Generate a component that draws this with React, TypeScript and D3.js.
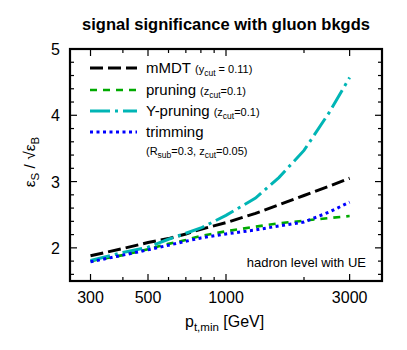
import React from 'react';
import * as d3 from 'd3';

// p_t,min values [GeV]
const ptValues = [300, 400, 500, 600, 700, 800, 1000, 1300, 1600, 2000, 2500, 3000];

// signal significance eps_S / sqrt(eps_B)
const mmdt = [1.88, 1.99, 2.08, 2.14, 2.21, 2.28, 2.38, 2.52, 2.65, 2.79, 2.93, 3.05];
const pruning = [1.80, 1.89, 1.98, 2.06, 2.12, 2.18, 2.25, 2.32, 2.37, 2.41, 2.45, 2.48];
const yPruning = [1.81, 1.93, 2.01, 2.13, 2.22, 2.30, 2.49, 2.75, 3.06, 3.47, 4.04, 4.57];
const trimming = [1.79, 1.89, 1.97, 2.04, 2.10, 2.15, 2.21, 2.27, 2.33, 2.39, 2.54, 2.69];

const xMajorTicks = [300, 500, 1000, 3000];
const xMinorTicks = [400, 600, 700, 800, 900, 2000, 4000];
const yMajorTicks = [2, 3, 4, 5];

const font = '"Liberation Sans", Arial, Helvetica, sans-serif';

const series = [
  { name: 'mMDT', values: mmdt, color: '#000000', dash: '13,5', width: 3, label: 'mMDT', note: [['(y', ''], ['cut', 'sub'], [' = 0.11)', '']] },
  { name: 'pruning', values: pruning, color: '#00aa00', dash: '7,6', width: 2.6, label: 'pruning', note: [['(z', ''], ['cut', 'sub'], ['=0.1)', '']] },
  { name: 'ypruning', values: yPruning, color: '#00b5b5', dash: '20,5,3,5', width: 3, label: 'Y-pruning', note: [['(z', ''], ['cut', 'sub'], ['=0.1)', '']] },
  { name: 'trimming', values: trimming, color: '#0000ff', dash: '3,3.5', width: 3, label: 'trimming', note: null },
];

const App = () => {
  const width = 407;
  const height = 350;
  const left = 70, right = 382, top = 49, bottom = 281;

  const x = d3.scaleLog().domain([250, 4000]).range([left, right]);
  const y = d3.scaleLinear().domain([1.5, 5]).range([bottom, top]);
  const yMinor = d3.range(1.6, 5.0, 0.2).filter(v => Math.abs(v - Math.round(v)) > 0.01);

  const line = (vals: number[]) =>
    d3.line<number>()
      .x((d, i) => x(ptValues[i]))
      .y(d => y(d))(vals) as string;

  const legendRows = [73, 95, 116, 137];

  return (
    <svg width={width} height={height} style={{ position: 'absolute', left: 0, top: 0 }} fontFamily={font}>
      <rect width={width} height={height} fill="#fff" />
      <text x={226} y={30} textAnchor="middle" fontSize={16.5} fontWeight="bold">
        signal significance with gluon bkgds
      </text>

      {/* curves */}
      {series.map(s => (
        <path key={s.name} d={line(s.values)} fill="none" stroke={s.color}
          strokeWidth={s.width} strokeDasharray={s.dash} />
      ))}

      {/* ticks on all four sides */}
      <g stroke="#000" strokeWidth={1.2}>
        {xMajorTicks.map(t => (
          <g key={'xM' + t}>
            <line x1={x(t)} x2={x(t)} y1={bottom} y2={bottom - 7} />
            <line x1={x(t)} x2={x(t)} y1={top} y2={top + 7} />
          </g>
        ))}
        {xMinorTicks.map(t => (
          <g key={'xm' + t}>
            <line x1={x(t)} x2={x(t)} y1={bottom} y2={bottom - 4} />
            <line x1={x(t)} x2={x(t)} y1={top} y2={top + 4} />
          </g>
        ))}
        {yMajorTicks.map(t => (
          <g key={'yM' + t}>
            <line x1={left} x2={left + 7} y1={y(t)} y2={y(t)} />
            <line x1={right} x2={right - 7} y1={y(t)} y2={y(t)} />
          </g>
        ))}
        {yMinor.map(t => (
          <g key={'ym' + t.toFixed(1)}>
            <line x1={left} x2={left + 4} y1={y(t)} y2={y(t)} />
            <line x1={right} x2={right - 4} y1={y(t)} y2={y(t)} />
          </g>
        ))}
      </g>
      <rect x={left} y={top} width={right - left} height={bottom - top} fill="none" stroke="#000" strokeWidth={2.2} />

      {/* tick labels */}
      {xMajorTicks.map(t => (
        <text key={'xl' + t} x={x(t)} y={303} textAnchor="middle" fontSize={16}>{t}</text>
      ))}
      {yMajorTicks.map(t => (
        <text key={'yl' + t} x={60} y={y(t) + 6} textAnchor="end" fontSize={16}>{t}</text>
      ))}

      {/* axis labels */}
      <text x={185} y={327} fontSize={16}>
        p<tspan fontSize={11.5} dy={4}>t,min</tspan><tspan dy={-4}> [GeV]</tspan>
      </text>
      <text transform="translate(35,162) rotate(-90)" textAnchor="middle" fontSize={15.5}>
        ε<tspan fontSize={11.5} dy={4}>S</tspan><tspan dy={-4}> / √ε</tspan><tspan fontSize={11.5} dy={4}>B</tspan>
      </text>

      {/* legend */}
      {series.map((s, i) => (
        <g key={'lg' + s.name}>
          <line x1={90} x2={137} y1={legendRows[i] - 5} y2={legendRows[i] - 5}
            stroke={s.color} strokeWidth={s.width} strokeDasharray={s.dash} />
          <text x={146} y={legendRows[i]} fontSize={15}>
            {s.label}
            {s.note && s.note.map(([txt, kind], k) => (
              <tspan key={k} fontSize={kind === 'sub' ? 8.5 : 11}
                dy={kind === 'sub' ? 2.5 : (k > 0 ? -2.5 : 0)} dx={k === 0 ? 4 : 0}>{txt}</tspan>
            ))}
          </text>
        </g>
      ))}
      <text x={146} y={155} fontSize={11}>
        (R<tspan fontSize={8.5} dy={2.5}>sub</tspan><tspan dy={-2.5}>=0.3, z</tspan>
        <tspan fontSize={8.5} dy={2.5}>cut</tspan><tspan dy={-2.5}>=0.05)</tspan>
      </text>

      <text x={366} y={267} textAnchor="end" fontSize={13}>hadron level with UE</text>
    </svg>
  );
};

export default App;
